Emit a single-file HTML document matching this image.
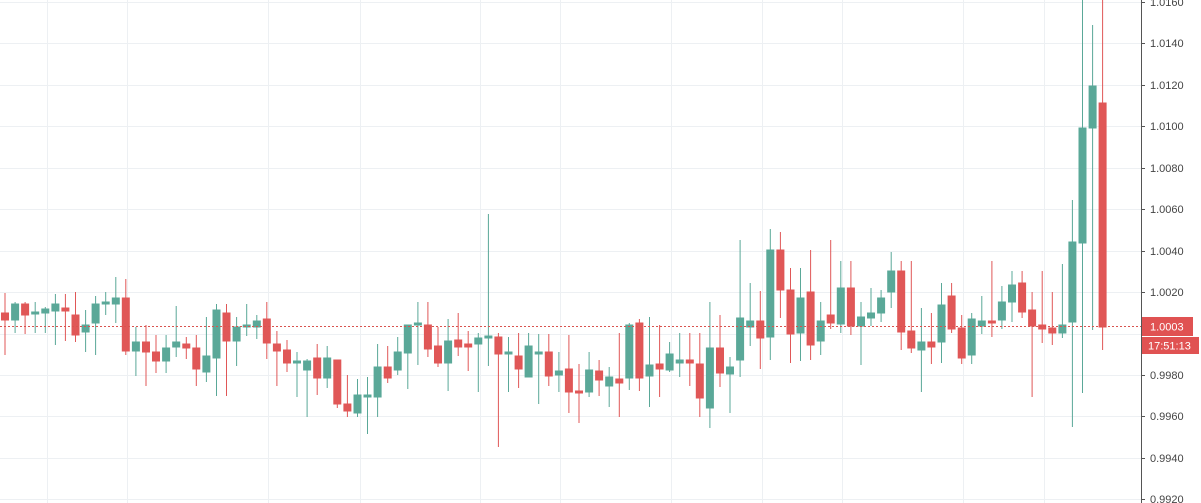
<!DOCTYPE html>
<html><head><meta charset="utf-8"><style>
html,body{margin:0;padding:0;background:#fff;}
svg{display:block;font-family:"Liberation Sans",sans-serif;}
</style></head><body>
<svg width="1201" height="503" viewBox="0 0 1201 503" xmlns="http://www.w3.org/2000/svg">
<rect width="1201" height="503" fill="#fff"/>
<g stroke="#edf0f3" stroke-width="1">
<path d="M0 2.5H1141M0 43.5H1141M0 85.5H1141M0 126.5H1141M0 168.5H1141M0 209.5H1141M0 251.5H1141M0 292.5H1141M0 334.5H1141M0 375.5H1141M0 416.5H1141M0 458.5H1141M0 499.5H1141"/>
<path d="M47.5 0V503M127.5 0V503M268.5 0V503M360.5 0V503M480.5 0V503M560.5 0V503M671.5 0V503M762.5 0V503M842.5 0V503M963.5 0V503M1044.5 0V503"/>
</g>
<!-- green -->
<g stroke="#5aa898" fill="#5aa898" stroke-width="1">
<path fill="none" d="M15.1 302V333M35.2 302V333M45.3 307V333M55.4 294V345M85.6 310V352M95.6 296V355M105.7 292V315M115.8 277V323M135.9 327V376M166.1 335V373M176.2 306V357M206.4 317V382M216.5 304V396M236.6 317V366M246.7 304V336M256.8 315V339M297 352V397M307.1 359V417M327.2 346V388M357.5 379V417M367.5 377V434M377.6 344V417M397.7 337V375M407.8 325V389M417.9 302V365M448.1 319V391M478.3 333V392M488.4 214V366M508.5 337V392M528.6 333V377M538.7 334V404M558.9 352V392M589.1 352V397M609.2 367V407M629.3 323V390M649.5 317V407M669.6 342V372M679.7 333V377M709.9 302V428M730 357V413M740.1 240V377M750.2 283V346M770.3 229V360M800.5 268V361M820.7 302V355M840.8 261V333M861 302V365M871 288V326M881.1 290V322M891.2 252V308M921.4 308V392M941.5 283V363M971.7 313V364M981.8 296V334M1001.9 286V329M1012 271V322M1062.4 264V338M1072.4 200V427M1082.5 0V393M1092.6 25V330"/>
<rect x="11.6" y="304" width="7" height="16"/><rect x="31.7" y="312" width="7" height="2"/><rect x="41.8" y="309" width="7" height="4"/><rect x="51.9" y="304" width="7" height="7"/><rect x="82.1" y="325" width="7" height="7"/><rect x="92.1" y="304" width="7" height="19"/><rect x="102.2" y="302" width="7" height="2"/><rect x="112.3" y="298" width="7" height="6"/><rect x="132.4" y="342" width="7" height="9"/><rect x="162.6" y="348" width="7" height="13"/><rect x="172.7" y="342" width="7" height="5"/><rect x="202.9" y="356" width="7" height="16"/><rect x="213" y="310" width="7" height="48"/><rect x="233.1" y="327" width="7" height="14"/><rect x="243.2" y="325" width="7" height="2"/><rect x="253.3" y="321" width="7" height="6"/><rect x="293.5" y="361" width="7" height="2"/><rect x="303.6" y="361" width="7" height="9"/><rect x="323.7" y="358" width="7" height="20"/><rect x="354" y="395" width="7" height="18"/><rect x="364" y="395" width="7" height="2"/><rect x="374.1" y="367" width="7" height="30"/><rect x="394.2" y="352" width="7" height="18"/><rect x="404.3" y="325" width="7" height="28"/><rect x="414.4" y="323" width="7" height="2"/><rect x="444.6" y="341" width="7" height="22"/><rect x="474.8" y="338" width="7" height="6"/><rect x="484.9" y="336" width="7" height="2"/><rect x="505" y="352" width="7" height="2"/><rect x="525.1" y="346" width="7" height="31"/><rect x="535.2" y="352" width="7" height="2"/><rect x="555.4" y="371" width="7" height="4"/><rect x="585.6" y="370" width="7" height="22"/><rect x="605.7" y="377" width="7" height="9"/><rect x="625.8" y="325" width="7" height="53"/><rect x="646" y="365" width="7" height="11"/><rect x="666.1" y="354" width="7" height="16"/><rect x="676.2" y="360" width="7" height="3"/><rect x="706.4" y="348" width="7" height="60"/><rect x="726.5" y="367" width="7" height="7"/><rect x="736.6" y="318" width="7" height="42"/><rect x="746.7" y="321" width="7" height="6"/><rect x="766.8" y="250" width="7" height="87"/><rect x="797" y="298" width="7" height="35"/><rect x="817.2" y="321" width="7" height="20"/><rect x="837.3" y="288" width="7" height="36"/><rect x="857.5" y="317" width="7" height="9"/><rect x="867.5" y="313" width="7" height="5"/><rect x="877.6" y="298" width="7" height="15"/><rect x="887.7" y="271" width="7" height="21"/><rect x="917.9" y="342" width="7" height="8"/><rect x="938" y="305" width="7" height="37"/><rect x="968.2" y="319" width="7" height="36"/><rect x="978.3" y="321" width="7" height="5"/><rect x="998.4" y="302" width="7" height="18"/><rect x="1008.5" y="285" width="7" height="17"/><rect x="1058.9" y="325" width="7" height="8"/><rect x="1068.9" y="242" width="7" height="80"/><rect x="1079" y="128" width="7" height="115"/><rect x="1089.1" y="86" width="7" height="42"/>
</g>
<!-- red -->
<g stroke="#e05757" fill="#e05757" stroke-width="1">
<path fill="none" d="M5 293V355M25.1 302V334M65.4 294V341M75.5 292V342M125.8 279V355M146 325V386M156 335V373M186.3 337V359M196.3 335V386M226.5 304V396M266.8 302V359M276.9 331V386M287 340V372M317.2 344V395M337.3 360V408M347.4 375V417M387.7 346V383M427.9 302V357M438 327V367M458.2 313V356M468.2 331V371M498.4 333V447M518.6 333V388M548.8 334V386M568.9 335V413M579 364V423M599.1 360V396M619.3 333V417M639.4 319V391M659.6 325V397M689.8 333V386M699.8 333V417M720 315V387M760.3 291V369M780.4 232V318M790.5 268V363M810.6 250V360M830.7 240V329M850.9 261V335M901.2 261V350M911.3 261V353M931.4 313V364M951.6 283V333M961.7 315V364M991.9 261V337M1022.1 271V318M1032.1 292V397M1042.2 271V343M1052.3 292V345M1102.6 0V350"/>
<rect x="1.5" y="313" width="7" height="7"/><rect x="21.6" y="304" width="7" height="11"/><rect x="61.9" y="308" width="7" height="3"/><rect x="72" y="315" width="7" height="20"/><rect x="122.3" y="298" width="7" height="53"/><rect x="142.5" y="342" width="7" height="10"/><rect x="152.5" y="352" width="7" height="9"/><rect x="182.8" y="344" width="7" height="4"/><rect x="192.8" y="348" width="7" height="21"/><rect x="223" y="313" width="7" height="28"/><rect x="263.3" y="319" width="7" height="24"/><rect x="273.4" y="344" width="7" height="7"/><rect x="283.5" y="350" width="7" height="13"/><rect x="313.7" y="358" width="7" height="20"/><rect x="333.8" y="360" width="7" height="44"/><rect x="343.9" y="404" width="7" height="7"/><rect x="384.2" y="367" width="7" height="11"/><rect x="424.4" y="325" width="7" height="24"/><rect x="434.5" y="346" width="7" height="17"/><rect x="454.7" y="340" width="7" height="7"/><rect x="464.7" y="344" width="7" height="3"/><rect x="494.9" y="337" width="7" height="17"/><rect x="515.1" y="356" width="7" height="13"/><rect x="545.3" y="352" width="7" height="24"/><rect x="565.4" y="369" width="7" height="23"/><rect x="575.5" y="391" width="7" height="2"/><rect x="595.6" y="371" width="7" height="9"/><rect x="615.8" y="379" width="7" height="4"/><rect x="635.9" y="323" width="7" height="55"/><rect x="656.1" y="364" width="7" height="5"/><rect x="686.3" y="360" width="7" height="3"/><rect x="696.3" y="364" width="7" height="34"/><rect x="716.5" y="348" width="7" height="25"/><rect x="756.8" y="321" width="7" height="17"/><rect x="776.9" y="250" width="7" height="40"/><rect x="787" y="290" width="7" height="44"/><rect x="807.1" y="292" width="7" height="53"/><rect x="827.2" y="315" width="7" height="8"/><rect x="847.4" y="288" width="7" height="38"/><rect x="897.7" y="271" width="7" height="61"/><rect x="907.8" y="331" width="7" height="17"/><rect x="927.9" y="342" width="7" height="5"/><rect x="948.1" y="296" width="7" height="33"/><rect x="958.2" y="328" width="7" height="30"/><rect x="988.4" y="321" width="7" height="2"/><rect x="1018.6" y="283" width="7" height="29"/><rect x="1028.6" y="310" width="7" height="16"/><rect x="1038.7" y="325" width="7" height="4"/><rect x="1048.8" y="328" width="7" height="5"/><rect x="1099.1" y="103" width="7" height="224"/>
</g>
<path d="M0 326.5H1141" stroke="#d9534f" stroke-width="1" stroke-dasharray="2,2"/>
<path d="M1141.5 0V503" stroke="#555" stroke-width="1"/>
<g fill="#444" font-size="11">
<path d="M1141 2.5h4M1141 43.5h4M1141 85.5h4M1141 126.5h4M1141 168.5h4M1141 209.5h4M1141 251.5h4M1141 292.5h4M1141 375.5h4M1141 416.5h4M1141 458.5h4M1141 499.5h4" stroke="#555"/>
<text x="1150" y="6">1.0160</text>
<text x="1150" y="47">1.0140</text>
<text x="1150" y="89">1.0120</text>
<text x="1150" y="130">1.0100</text>
<text x="1150" y="172">1.0080</text>
<text x="1150" y="213">1.0060</text>
<text x="1150" y="255">1.0040</text>
<text x="1150" y="296">1.0020</text>
<text x="1150" y="379">0.9980</text>
<text x="1150" y="420">0.9960</text>
<text x="1150" y="462">0.9940</text>
<text x="1150" y="503">0.9920</text>
</g>
<rect x="1142" y="317" width="51" height="19" fill="#e05252"/>
<rect x="1142" y="337" width="57" height="17" fill="#e05252"/>
<text x="1150" y="330.5" fill="#fff" font-size="11">1.0003</text>
<text x="1148" y="349.5" fill="#fff" font-size="11">17:51:13</text>
</svg>
</body></html>
